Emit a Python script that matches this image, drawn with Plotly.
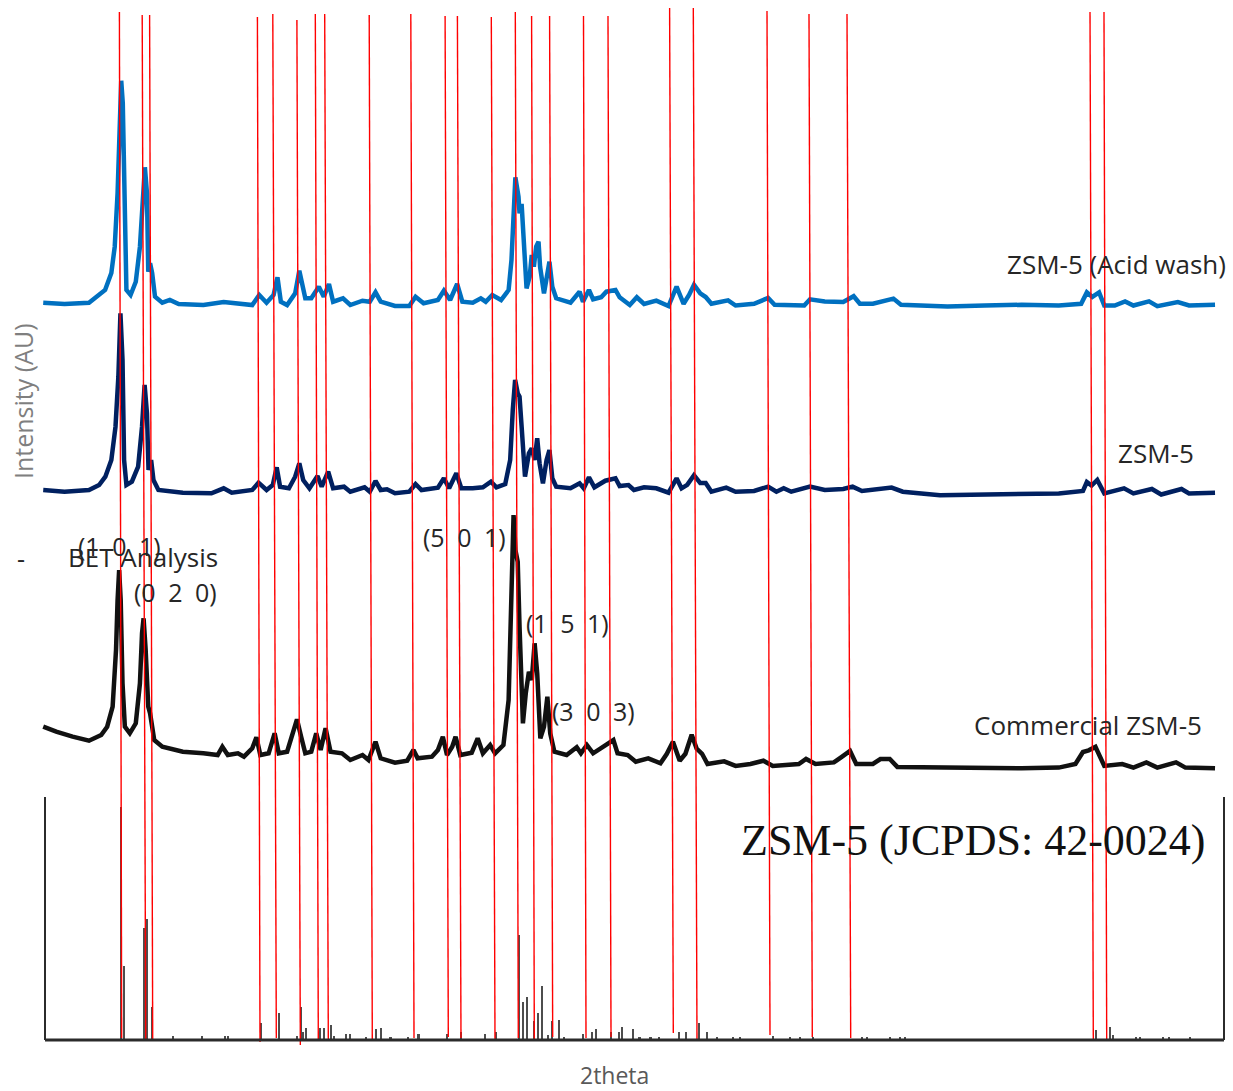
import plotly.graph_objects as go

# ---------------- data (2theta in degrees, intensity in a.u.) ----------------
tt_acid = [4.97, 5.79, 6.73, 7.04, 7.35, 7.59, 7.72, 7.83, 7.91, 7.97, 8.03, 8.10, 8.17, 8.33, 8.53, 8.69, 8.80, 8.88,
           8.96, 9.01, 9.08, 9.16, 9.27, 9.55, 9.84, 10.18, 11.13, 11.91, 13.01, 13.28, 13.56, 13.83, 13.98, 14.11,
           14.35, 14.66, 14.82, 14.94, 15.05, 15.28, 15.57, 15.76, 15.96, 16.12, 16.50, 16.78, 17.25, 17.53, 17.75,
           17.95, 18.50, 19.05, 19.29, 19.60, 20.15, 20.38, 20.62, 20.89, 21.09, 21.49, 21.80, 21.99, 22.24, 22.58,
           22.87, 22.98, 23.06, 23.13, 23.25, 23.29, 23.37, 23.43, 23.56, 23.68, 23.76, 23.84, 23.93, 24.02, 24.08,
           24.23, 24.34, 24.44, 24.55, 24.70, 25.25, 25.60, 25.73, 25.96, 26.12, 26.43, 26.63, 26.98, 27.14, 27.53,
           27.80, 28.08, 28.55, 29.02, 29.33, 29.60, 29.81, 30.00, 30.24, 30.45, 30.67, 31.31, 31.60, 32.31, 32.85,
           33.10, 34.24, 34.46, 35.03, 35.74, 36.14, 36.38, 36.88, 37.67, 37.96, 39.75, 41.18, 42.60, 44.03, 44.89,
           45.11, 45.32, 45.58, 45.78, 46.18, 46.58, 46.90, 47.50, 47.82, 48.61, 49.04, 50.04]
int_acid = [7.3, 6, 7.3, 13, 20, 37, 63.3, 117, 183.3, 229.3, 207, 83.3, 20, 15, 28.3, 63.3, 117, 142.7,
            117, 38.3, 46.7, 37, 13.3, 7.3, 10, 6, 5, 8, 5, 15, 7.3, 15, 32.7, 8.3,
            5, 16.7, 39.3, 26.7, 11.7, 11.7, 23.3, 13.3, 26, 8.3, 11.7, 5, 9.3, 8.3, 17.7,
            8.3, 4, 4, 13.3, 6.7, 10, 19.3, 10, 26, 8.3, 7.3, 11.7, 8.3, 15, 10,
            20, 50, 100, 132.7, 113.3, 96.7, 106, 73.3, 21.7, 33.3, 55, 43.3, 63.3, 68.3, 43.3,
            16.7, 33.3, 48.3, 23.3, 11.7, 7.3, 18.3, 8.3, 20, 10.7, 12.7, 18.3, 20, 12.7, 5,
            12.7, 6, 9.3, 4, 23.3, 6.2, 15, 25.2, 16.6, 13, 6.2, 9.7, 4.5, 6.2, 12,
            5.2, 4.5, 10.7, 8.6, 8, 13.8, 6.2, 6.2, 11.4, 5.2, 3.4, 4.5, 5.2, 4.5, 6.2,
            17.6, 13.1, 17.6, 4.5, 4.5, 8.6, 4.5, 8.6, 3.8, 8, 4.5, 5.2]

tt_zsm = [4.97, 5.79, 6.73, 7.12, 7.36, 7.59, 7.75, 7.86, 7.94, 8.02, 8.08, 8.17, 8.38, 8.62, 8.77, 8.87, 8.96,
          9.02, 9.12, 9.21, 9.40, 10.34, 11.44, 11.91, 12.22, 13.01, 13.25, 13.56, 13.80, 13.95, 14.08, 14.42,
          14.66, 14.82, 14.97, 15.21, 15.52, 15.68, 15.93, 16.12, 16.54, 16.78, 17.33, 17.53, 17.75, 17.95, 18.19,
          18.50, 19.05, 19.29, 19.52, 20.15, 20.38, 20.58, 20.86, 21.05, 21.49, 21.88, 22.19, 22.40, 22.74, 22.93,
          23.03, 23.12, 23.22, 23.29, 23.37, 23.50, 23.65, 23.76, 23.87, 23.97, 24.06, 24.19, 24.33, 24.44, 24.55,
          24.70, 25.25, 25.60, 25.76, 25.96, 26.17, 26.59, 26.98, 27.14, 27.48, 27.69, 28.08, 28.55, 29.02, 29.33,
          29.52, 29.74, 30.00, 30.24, 30.45, 30.67, 31.24, 31.60, 32.31, 32.85, 33.17, 33.45, 33.74, 34.46, 35.03,
          35.74, 36.10, 36.46, 37.60, 38.03, 39.46, 41.18, 42.60, 44.03, 44.96, 45.11, 45.29, 45.51, 45.78, 46.11,
          46.54, 46.90, 47.61, 47.97, 48.75, 49.04, 50.04]
int_zsm = [7, 5.3, 7, 12, 20.3, 37, 70.3, 120.3, 183.7, 137, 37, 12, 15.3, 30.3, 70.3, 112, 83.7,
           27, 37, 17, 7, 4.3, 3.7, 8.7, 4.3, 7, 14.3, 7, 12, 29.7, 10.3, 8.7,
           20.3, 33.7, 17, 8.7, 21, 10.3, 25.3, 8.7, 10.3, 5.3, 9.7, 5.3, 16, 7, 7.7,
           3.7, 5.3, 13, 7, 9.3, 18.7, 8.7, 23.7, 8.7, 8.7, 9.7, 15.3, 9.7, 13, 37,
           87, 117, 103.7, 100.3, 70.3, 20.3, 43.7, 48.7, 37, 58.7, 33.7, 13.7, 37, 47, 18.7,
           10.3, 8.7, 13.7, 8.7, 19.7, 9.7, 16.3, 18.7, 11, 12, 7, 9.7, 8.7, 4.3, 18.7,
           8.7, 12.2, 21.8, 13.9, 13.9, 5.3, 9.4, 5.3, 6, 10.4, 5.3, 8.7, 5.3, 10.4, 7,
           8, 10.4, 6, 9.4, 5.3, 1.8, 2.5, 3.6, 3.6, 6, 15, 11.5, 17, 3.6, 6,
           8.7, 3.6, 8, 2.5, 8, 3.6, 4.2]

tt_comm = [4.97, 5.47, 6.10, 6.73, 7.20, 7.43, 7.64, 7.77, 7.83, 7.89, 7.95, 8.02, 8.11, 8.30, 8.53, 8.69, 8.77,
           8.83, 8.91, 9.01, 9.08, 9.24, 9.55, 10.34, 11.13, 11.68, 11.86, 12.07, 12.46, 12.69, 13.01, 13.17,
           13.32, 13.64, 13.87, 14.03, 14.35, 14.58, 14.73, 14.89, 15.05, 15.28, 15.47, 15.64, 15.83, 16.02, 16.46,
           16.78, 17.25, 17.48, 17.75, 17.95, 18.50, 18.97, 19.21, 19.37, 19.92, 20.15, 20.34, 20.50, 20.70, 20.83,
           21.01, 21.45, 21.68, 21.88, 22.16, 22.35, 22.67, 22.87, 22.98, 23.06, 23.13, 23.22, 23.29, 23.42, 23.53,
           23.65, 23.76, 23.87, 23.97, 24.09, 24.23, 24.36, 24.47, 24.63, 25.10, 25.49, 25.65, 25.88, 26.12, 26.59,
           26.90, 27.06, 27.45, 27.76, 28.24, 28.71, 28.95, 29.19, 29.45, 29.67, 29.91, 30.10, 30.31, 30.52, 31.16,
           31.60, 32.17, 32.67, 33.03, 34.03, 34.31, 34.67, 35.38, 35.67, 36.00, 36.24, 36.88, 37.17, 37.53, 37.82,
           39.75, 41.18, 42.60, 44.03, 44.67, 44.96, 45.18, 45.44, 45.61, 45.78, 46.47, 46.90, 47.40, 47.82, 48.54,
           48.90, 50.04]
int_comm = [45.3, 40.3, 35.3, 31.3, 37, 45.3, 65.3, 122, 172, 202, 172, 88.7, 45.3, 38.7, 48.7, 88.7, 138.7,
            153.7, 122, 65.3, 58.7, 32, 25.3, 20.3, 18.7, 17, 25.3, 17, 18.7, 15.3, 23.7, 34.7,
            17, 18.7, 38.7, 18.7, 20.3, 38.7, 52.7, 35.3, 18.7, 20.3, 38.7, 22, 43.7, 20.3, 18.7,
            12, 17, 12, 30.3, 13.7, 9.3, 11.3, 22, 13.7, 15.3, 22, 35.3, 17, 25.3, 35.3,
            17, 19.3, 33.7, 18.7, 27, 18.7, 27, 72, 172, 257, 222, 210.3, 145.3, 48.7, 78.7,
            100.3, 92, 128.7, 98.7, 33.7, 45.3, 75.3, 38.7, 20.3, 17, 24.7, 18.7, 27, 18.7, 27,
            32, 18.7, 17, 10.3, 13.7, 8.7, 18, 30.3, 11.3, 18.2, 37.2, 23.4, 18.2, 8, 10.6,
            6.1, 8, 11.3, 6.1, 8, 13, 8, 9.6, 14.8, 21, 8, 8, 13, 13, 5.1,
            4.4, 4.4, 3.7, 4.4, 8, 20, 21.7, 25.1, 16.5, 6.1, 8, 4.4, 9.6, 4.4, 9.6,
            4.4, 3.7]

# JCPDS 42-0024 reference sticks
tt_ref = [7.95, 8.07, 8.86, 8.95, 9.15, 9.95, 11.08, 11.96, 12.08, 13.35, 14.05, 14.72, 14.88, 14.96, 15.09,
          15.62, 15.76, 16.04, 16.15, 16.60, 16.78, 17.38, 17.76, 17.97, 18.33, 18.99, 19.40, 20.51, 21.03,
          21.96, 22.37, 23.28, 23.43, 23.59, 23.86, 24.01, 24.15, 24.37, 24.54, 24.81, 25.00, 25.72, 26.07,
          26.22, 26.81, 27.12, 27.23, 27.64, 27.90, 28.33, 28.65, 29.43, 29.68, 30.18, 30.51, 30.87, 31.51,
          31.77, 33.05, 33.69, 34.08, 34.59, 36.45, 36.64, 37.54, 37.92, 38.12, 45.46, 46.00, 46.12, 47.00,
          47.15, 48.05, 48.28, 49.08]
int_ref = [232, 73, 111, 120, 32, 3, 3, 3, 3, 16, 26, 3, 32, 7, 11,
           11, 11, 14, 3, 5, 5, 2, 10, 11, 2, 2, 5, 5, 7,
           5, 7, 104, 37, 42, 18, 26, 53, 4, 18, 19, 2, 5, 7,
           10, 7, 7, 12, 10, 2, 2, 2, 7, 7, 16, 7, 2, 2,
           2, 3, 2, 2, 2, 2, 2, 2, 2, 2, 9, 12, 4, 2,
           2, 2, 2, 2]

# red guide lines (2theta at top / bottom end, vertical extent in chart units)
guide_tt_top = [7.900, 8.777, 9.062, 13.208, 13.800, 14.727, 15.435, 15.796, 17.508, 19.108, 20.427, 20.900,
                22.204, 23.127, 23.754, 24.446, 25.750, 26.692, 29.062, 29.973, 32.808, 34.423, 35.885,
                45.231, 45.769]
guide_tt_bot = [7.988, 8.912, 9.181, 13.308, 13.935, 14.858, 15.550, 15.935, 17.627, 19.231, 20.550, 21.038,
                22.346, 23.242, 23.858, 24.565, 25.846, 26.808, 29.204, 30.115, 32.923, 34.550, 36.027,
                45.358, 45.873]
guide_y_top = [1079, 1076, 1076, 1074, 1077, 1071, 1077, 1077, 1076, 1077, 1075, 1075, 1074, 1079, 1075,
               1075, 1075, 1075, 1083, 1083, 1080, 1077, 1077, 1079, 1079]
guide_y_bot = [53, 51, 51, 49, 53, 46, 51, 51, 50, 53, 54, 53, 51, 53, 51, 54, 53, 54, 58, 51, 56, 54, 53,
               51, 51]

# ---------------- layout constants ----------------
W, H = 1233, 1091
PX_PER_DEG = 26.0
X0 = 5 - 44 / PX_PER_DEG
X1 = X0 + W / PX_PER_DEG
OFF_ACID, OFF_ZSM, OFF_COMM, OFF_REF = 781, 594, 319, 52


def px(x):
    return x / W


def py(y):
    return 1 - y / H


fig = go.Figure()

# reference stick pattern
fig.add_trace(go.Bar(x=tt_ref, y=int_ref, base=OFF_REF, width=0.085,
                     marker=dict(color="#4d4d4d", line=dict(width=0)), hoverinfo="skip"))

fig.add_trace(go.Scatter(x=tt_comm, y=[OFF_COMM + v for v in int_comm], mode="lines",
                         line=dict(color="#111111", width=4.5), name="Commercial ZSM-5"))
fig.add_trace(go.Scatter(x=tt_zsm, y=[OFF_ZSM + v for v in int_zsm], mode="lines",
                         line=dict(color="#002060", width=4.5), name="ZSM-5"))
fig.add_trace(go.Scatter(x=tt_acid, y=[OFF_ACID + v for v in int_acid], mode="lines",
                         line=dict(color="#0070C0", width=4.5), name="ZSM-5 (Acid wash)"))

# red guide lines
gx, gy = [], []
for xt, xb, yt, yb in zip(guide_tt_top, guide_tt_bot, guide_y_top, guide_y_bot):
    gx += [xt, xb, None]
    gy += [yt, yb, None]
fig.add_trace(go.Scatter(x=gx, y=gy, mode="lines", line=dict(color="#ff0000", width=1.4),
                         hoverinfo="skip"))

# JCPDS panel frame
frame = dict(type="line", xref="x", yref="y", line=dict(color="#2b2b2b"))
x_left = 5 + 1 / PX_PER_DEG
x_right = 5 + 1180 / PX_PER_DEG
fig.add_shape(**frame, x0=x_left, x1=x_left, y0=51, y1=294)
fig.add_shape(**frame, x0=x_right, x1=x_right, y0=51, y1=294)
fig.add_shape(type="line", xref="x", yref="y", x0=x_left, x1=x_right, y0=51, y1=51,
              line=dict(color="#2b2b2b", width=3))

SANS = "Open Sans, Noto Sans, sans-serif"
TXT = "#262626"
SP = "\u2002"


def label(text, cx, cy, size=26, color=TXT, family=SANS, angle=0):
    fig.add_annotation(text=text, x=px(cx), y=py(cy), xref="paper", yref="paper",
                       xanchor="center", yanchor="middle", showarrow=False, textangle=angle,
                       font=dict(family=family, size=size, color=color))


label("ZSM-5 (Acid wash)", 1116, 264)
label("ZSM-5", 1156, 453)
label("Commercial ZSM-5", 1088, 725)
label(f"(1{SP}0{SP}1)", 119, 546, size=25)
label(f"(0{SP}2{SP}0)", 175, 592, size=25)
label(f"(5{SP}0{SP}1)", 464, 537, size=25)
label(f"(1{SP}5{SP}1)", 567, 623, size=25)
label(f"(3{SP}0{SP}3)", 593, 711, size=25)
label("-", 21, 558, size=25)
label("BET Analysis", 143, 557, size=26)
label("ZSM-5 (JCPDS: 42-0024)", 973, 840, size=44, color="#111111",
      family="Liberation Serif, Times New Roman, serif")
label("Intensity (AU)", 23, 401, size=25, color="#7f7f7f", angle=-90)
label("2theta", 614, 1075, size=23, color="#595959")

fig.update_layout(
    width=W, height=H, margin=dict(l=0, r=0, t=0, b=0),
    paper_bgcolor="white", plot_bgcolor="white", showlegend=False,
    xaxis=dict(range=[X0, X1], visible=False, fixedrange=True),
    yaxis=dict(range=[0, H], visible=False, fixedrange=True),
    bargap=0,
)

fig.write_html("out.html")
